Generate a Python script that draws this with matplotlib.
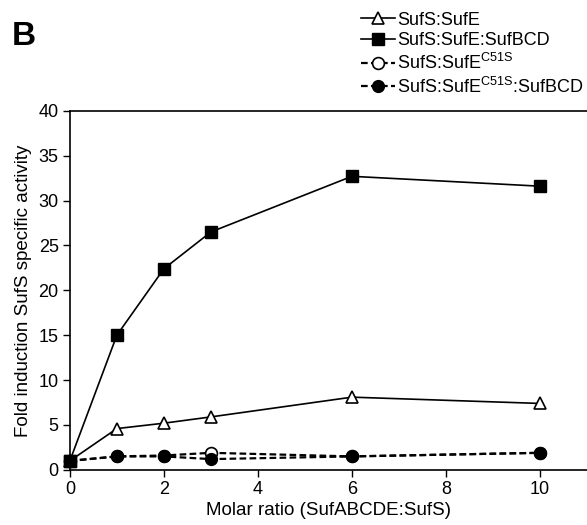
import matplotlib
matplotlib.use("Agg")
import matplotlib.pyplot as plt

plt.rcParams['font.family'] = ['Liberation Sans', 'DejaVu Sans']
plt.rcParams['mathtext.fontset'] = 'custom'
plt.rcParams['mathtext.rm'] = 'Liberation Sans'

x = [0, 1, 2, 3, 6, 10]
sufe = [1.0, 4.6, 5.2, 5.9, 8.1, 7.4]
sufe_bcd = [1.0, 15.0, 22.4, 26.5, 32.7, 31.6]
c51s = [1.0, 1.5, 1.6, 1.9, 1.5, 1.9]
c51s_bcd = [1.0, 1.5, 1.5, 1.2, 1.5, 1.9]
labels = ['SufS:SufE', 'SufS:SufE:SufBCD', r'SufS:SufE$^{\mathrm{C51S}}$',
          r'SufS:SufE$^{\mathrm{C51S}}$:SufBCD']
xticks = [0, 2, 4, 6, 8, 10]
yticks = [0, 5, 10, 15, 20, 25, 30, 35, 40]

fig = plt.figure(figsize=(5.87, 5.25), dpi=100)
ax = fig.add_axes([0.119, 0.105, 0.881, 0.684])

lw = 1.2
l1, = ax.plot(x, sufe, '-', color='black', lw=lw, marker='^', ms=8.5,
              mfc='white', mec='black', mew=1.2, label=labels[0], zorder=3)
l2, = ax.plot(x, sufe_bcd, '-', color='black', lw=lw, marker='s', ms=8.5,
              mfc='black', mec='black', label=labels[1], zorder=3)
l3, = ax.plot(x, c51s, '--', color='black', lw=1.6, marker='o', ms=8.5,
              mfc='white', mec='black', mew=1.2, dashes=(3, 1.5), label=labels[2], zorder=2)
l4, = ax.plot(x, c51s_bcd, '--', color='black', lw=1.6, marker='o', ms=8.5,
              mfc='black', mec='black', dashes=(3, 1.5), label=labels[3], zorder=2)
ax.plot(x[:1], sufe_bcd[:1], 's', color='black', ms=8.5, zorder=4)

ax.set_xlim(0, 11)
ax.set_ylim(0, 40)
ax.set_xticks(xticks)
ax.set_yticks(yticks)
ax.tick_params(direction='out', length=5, width=1, labelsize=13, pad=3)
ax.spines['right'].set_visible(False)
for s in ['left', 'bottom', 'top']:
    ax.spines[s].set_linewidth(1.2)
for ln in ax.lines:
    ln.set_clip_on(False)

ax.set_xlabel('Molar ratio (SufABCDE:SufS)', fontsize=13.5, labelpad=3)
ax.set_ylabel('Fold induction SufS specific activity', fontsize=13.5, labelpad=5)

fig.text(0.02, 0.915, 'B', fontsize=24, fontweight='bold')

fig.legend(handles=[l1, l2, l3, l4], labels=labels, loc='upper left',
           bbox_to_anchor=(0.595, 1.0), frameon=False, fontsize=13,
           handlelength=1.9, handletextpad=0.1, labelspacing=0.2,
           borderaxespad=0.25)

fig.savefig('out.png', dpi=100)
